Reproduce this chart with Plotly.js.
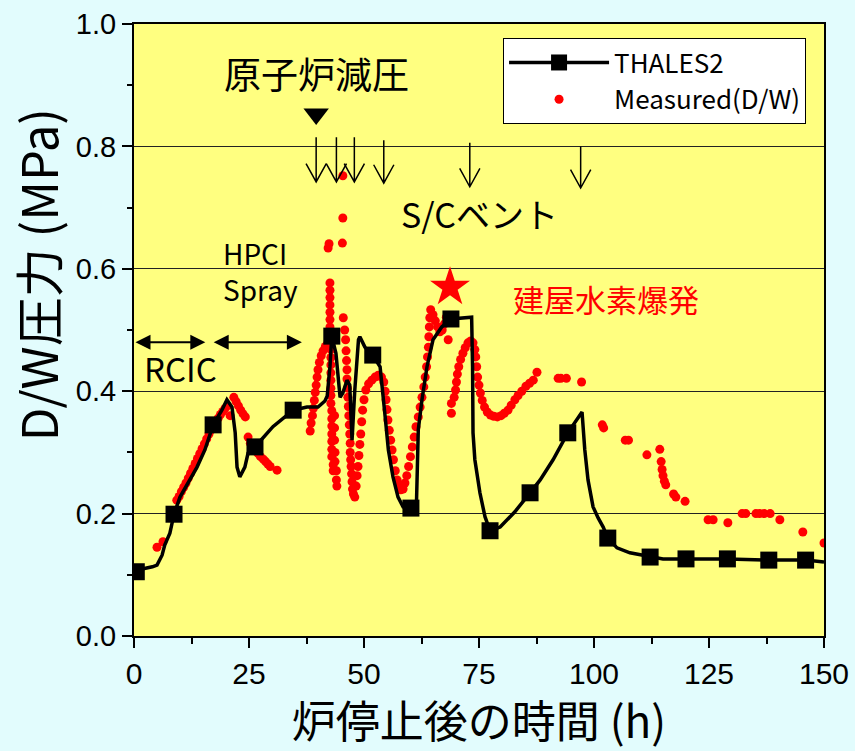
<!DOCTYPE html>
<html>
<head>
<meta charset="utf-8">
<script src="https://cdn.plot.ly/plotly-3.0.1.min.js"></script>
<style>
html,body{margin:0;padding:0;background:#e2fcfd;}
#chart{width:855px;height:751px;}
</style>
</head>
<body>
<div id="chart"></div>
<script>
// THALES2 calculated D/W pressure (line)
const thalesT = [0, 2, 4, 5, 6.1, 6.7, 7.8, 8.7, 10.0, 11.7, 13.7, 15.4, 17.2, 19.1, 20.2, 21.3, 22.0, 22.4, 23.0, 24.1, 24.8, 26.3, 30.2, 34.6, 37.6, 40.0, 41.5, 42.0, 42.6, 43.0, 43.9, 44.8, 45.4, 46.3, 46.9, 47.4, 48.0, 48.8, 49.1, 50.2, 51.9, 53.5, 53.9, 54.6, 55.3, 56.3, 57.4, 58.5, 60.2, 61.4, 61.6, 61.8, 62.6, 63.7, 65.0, 66.9, 68.9, 71.5, 73.4, 73.6, 73.7, 74.1, 75.2, 76.3, 77.4, 79.6, 82.8, 86.1, 88.3, 91.1, 94.3, 97.4, 98.0, 98.7, 99.8, 100.9, 102.0, 103.0, 105.0, 107.8, 112.2, 115.0, 120, 129, 138, 146, 150];
const thalesV = [0.105, 0.110, 0.113, 0.116, 0.132, 0.149, 0.168, 0.199, 0.227, 0.250, 0.276, 0.304, 0.345, 0.369, 0.386, 0.374, 0.332, 0.276, 0.260, 0.276, 0.299, 0.309, 0.342, 0.369, 0.374, 0.374, 0.384, 0.392, 0.440, 0.490, 0.462, 0.390, 0.397, 0.418, 0.410, 0.320, 0.402, 0.484, 0.489, 0.472, 0.459, 0.440, 0.413, 0.358, 0.304, 0.260, 0.227, 0.211, 0.209, 0.215, 0.276, 0.337, 0.386, 0.440, 0.484, 0.505, 0.518, 0.520, 0.521, 0.440, 0.332, 0.288, 0.234, 0.195, 0.172, 0.178, 0.203, 0.234, 0.255, 0.288, 0.332, 0.366, 0.304, 0.255, 0.211, 0.193, 0.178, 0.160, 0.144, 0.136, 0.129, 0.126, 0.126, 0.126, 0.124, 0.124, 0.121];
// THALES2 square markers
const markT = [0.5, 8.7, 17.2, 26.3, 34.6, 43.0, 51.9, 60.2, 68.9, 77.4, 86.1, 94.3, 103.0, 112.2, 120, 129, 138, 146];
const markV = [0.105, 0.199, 0.345, 0.309, 0.369, 0.490, 0.459, 0.209, 0.518, 0.172, 0.234, 0.332, 0.160, 0.129, 0.126, 0.126, 0.124, 0.124];

// Measured D/W pressure (red dots)
const measT = [5.0, 6.3,
 9.3, 9.8, 10.3, 10.8, 11.3, 11.8, 12.3, 12.8, 13.3, 13.8, 14.3, 14.8, 15.3, 15.8, 16.3, 16.8, 17.3, 17.8, 18.3, 18.8, 19.3, 19.8, 20.3,
 20.9, 21.7, 22.2, 22.7, 23.2, 23.7, 24.2, 24.8, 25.3, 25.8, 26.4, 27.0, 27.5, 28.1, 28.6, 29.1, 29.6, 31.1,
 38.3, 38.5, 38.8, 39.0, 39.2, 39.4, 39.6, 39.8, 40.0, 40.3, 40.7, 41.1, 41.6, 42.1, 42.6,
 42.4, 42.2,
 42.6, 42.6, 42.6, 42.6, 42.6, 42.6, 42.6, 42.8, 42.8, 42.8, 42.8, 42.8, 42.8, 42.8, 42.8, 42.8, 42.8,
 43.0, 43.0, 43.0, 43.0, 43.0, 43.0, 43.0, 43.3, 43.3,
 43.6, 43.6, 43.6, 43.7, 43.7, 44.0, 44.0, 44.1,
 45.4, 45.4, 45.3,
 45.5, 45.8, 46.0, 46.1, 46.2, 46.3, 46.3, 46.4, 46.5, 46.6, 46.7, 46.8, 46.9, 47.0, 47.0, 47.1, 47.2, 47.3, 47.4, 47.5, 47.7,
 48.0, 48.3, 48.5, 48.7, 48.9, 49.1, 49.3, 49.5, 49.7, 50.0, 50.4, 51.0, 51.7, 52.4, 53.1, 53.8, 54.3, 54.6, 54.8, 55.0, 55.2, 55.5, 55.8, 56.1, 56.4, 56.8, 57.2, 57.6, 58.0, 58.5, 58.9, 59.3, 59.7, 60.1, 60.5, 60.9, 61.3, 61.8, 62.2, 62.6, 63.0, 63.3, 63.6, 63.8, 64.0, 64.1, 64.2, 64.3, 64.5, 65.0, 65.5, 66.0, 66.5, 67.0, 67.5, 67.9, 68.3,
 69.0, 69.0,
 69.6, 69.9, 70.1, 70.3, 70.6, 71.0, 71.5, 72.0, 72.6, 73.2, 73.7, 74.1, 74.3, 74.5, 74.7, 75.0, 75.3, 75.7, 76.2, 76.8, 77.5, 78.2, 79.0, 79.8, 80.5, 81.3, 82.0, 82.8, 83.5, 84.3, 85.2, 86.0, 86.8, 87.6,
 92.2, 92.8, 94.0, 97.3,
 101.8, 102.1, 106.8, 107.5, 111.5, 114.3, 114.6, 114.8, 115.0, 115.3, 115.6, 117.3, 117.8, 119.8, 124.8, 125.9, 129.1, 132.2, 133.0, 135.2, 136.0, 137.0, 138.3, 140.4, 145.4, 150.0];
const measV = [0.145, 0.154,
 0.222, 0.228, 0.236, 0.243, 0.250, 0.258, 0.266, 0.274, 0.282, 0.290, 0.298, 0.306, 0.314, 0.322, 0.330, 0.337, 0.344, 0.350, 0.356, 0.362, 0.367, 0.372, 0.376,
 0.360, 0.390, 0.383, 0.376, 0.369, 0.363, 0.358, 0.325, 0.315, 0.307, 0.302, 0.298, 0.293, 0.289, 0.285, 0.281, 0.277, 0.271,
 0.335, 0.348, 0.360, 0.372, 0.385, 0.398, 0.410, 0.423, 0.435, 0.447, 0.458, 0.466, 0.473, 0.478, 0.482,
 0.641, 0.634,
 0.577, 0.565, 0.553, 0.541, 0.529, 0.517, 0.505, 0.493, 0.480, 0.468, 0.455, 0.443, 0.430, 0.418, 0.405, 0.393, 0.380,
 0.368, 0.355, 0.343, 0.330, 0.318, 0.305, 0.293, 0.280, 0.270,
 0.360, 0.340, 0.320, 0.300, 0.285, 0.270, 0.255, 0.245,
 0.752, 0.683, 0.642,
 0.520, 0.500, 0.484, 0.466, 0.450, 0.435, 0.420, 0.405, 0.390, 0.375, 0.360, 0.345, 0.330, 0.315, 0.300, 0.288, 0.277, 0.265, 0.252, 0.240, 0.232,
 0.227, 0.245, 0.262, 0.277, 0.295, 0.313, 0.330, 0.350, 0.369, 0.386, 0.402, 0.412, 0.418, 0.423, 0.426, 0.423, 0.415, 0.400, 0.386, 0.370, 0.353, 0.336, 0.320, 0.304, 0.288, 0.270, 0.255, 0.245, 0.239, 0.240, 0.250, 0.262, 0.277, 0.293, 0.309, 0.325, 0.342, 0.358, 0.374, 0.390, 0.407, 0.423, 0.440, 0.456, 0.472, 0.489, 0.505, 0.520, 0.533, 0.525, 0.515, 0.505, 0.497, 0.500, 0.510, 0.521, 0.484,
 0.380, 0.364,
 0.390, 0.402, 0.415, 0.428, 0.440, 0.452, 0.462, 0.471, 0.479, 0.482, 0.479, 0.468, 0.456, 0.440, 0.423, 0.410, 0.397, 0.385, 0.374, 0.366, 0.361, 0.359, 0.358, 0.360, 0.364, 0.369, 0.377, 0.386, 0.393, 0.400, 0.408, 0.413, 0.418, 0.431,
 0.421, 0.421, 0.421, 0.415,
 0.345, 0.340, 0.320, 0.320, 0.296, 0.305, 0.285, 0.272, 0.262, 0.253, 0.247, 0.232, 0.227, 0.220, 0.190, 0.190, 0.185, 0.200, 0.200, 0.200, 0.200, 0.200, 0.200, 0.190, 0.170, 0.152];

// Event annotations
const ventTimes = [39.6, 44.0, 47.9, 54.3, 73.0, 97.1];
const ventTop   = [0.815, 0.815, 0.815, 0.81, 0.806, 0.80];
const ventTip   = [0.742, 0.742, 0.742, 0.740, 0.734, 0.732];
const depressT = 39.6, depressV = 0.853;
const explosionT = 68.7, explosionV = 0.57;
const rcicRange = [0, 15.5];
const hpciRange = [17.0, 36.5];
const injArrowV = 0.48;

const CJK = '"Noto Sans CJK JP", "Noto Sans", sans-serif';
const NUM = '"Liberation Sans", Arial, sans-serif';

const traces = [
  { x: [null], y: [null], mode: 'lines+markers', name: 'THALES2',
    line: { color: '#000', width: 3.5 }, marker: { symbol: 'square', size: 16, color: '#000' } },
  { x: measT, y: measV, mode: 'markers', name: 'Measured(D/W)',
    marker: { color: '#ff0000', size: 9 } },
  { x: thalesT, y: thalesV, mode: 'lines', showlegend: false,
    line: { color: '#000', width: 3.5 } },
  { x: markT, y: markV, mode: 'markers', showlegend: false,
    marker: { symbol: 'square', size: 17, color: '#000' } },
  { x: [depressT], y: [depressV], mode: 'markers', showlegend: false, cliponaxis: false,
    marker: { symbol: 'triangle-down', size: 22, color: '#000' } },
  { x: [explosionT], y: [explosionV], mode: 'markers', showlegend: false,
    marker: { symbol: 'star', size: 30, color: '#ff0000', line: { width: 0 } } }
];

// vent arrows as shapes (data coords)
const dxHead = 2.2, dyHead = 0.03;
const shapes = ventTimes.map((t, i) => ({
  type: 'path', xref: 'x', yref: 'y',
  path: `M${t},${ventTop[i]} L${t},${ventTip[i]} M${t - dxHead},${ventTip[i] + dyHead} L${t},${ventTip[i]} L${t + dxHead},${ventTip[i] + dyHead}`,
  line: { color: '#000', width: 1.5 }
}));

const annotations = [
  { x: depressT, y: 0.92, xref: 'x', yref: 'y', text: '原子炉減圧', showarrow: false,
    font: { family: CJK, size: 37, color: '#000' } },
  { x: 75.0, y: 0.691, xref: 'x', yref: 'y', text: 'S/Cベント', showarrow: false,
    font: { family: CJK, size: 34, color: '#000' } },
  { x: 19.0, y: 0.597, xref: 'x', yref: 'y', text: 'HPCI<br>Spray', showarrow: false, align: 'left',
    xanchor: 'left', font: { family: CJK, size: 28, color: '#000' } },
  { x: 10.0, y: 0.438, xref: 'x', yref: 'y', text: 'RCIC', showarrow: false,
    font: { family: CJK, size: 33, color: '#000' } },
  { x: 102.5, y: 0.552, xref: 'x', yref: 'y', text: '建屋水素爆発', showarrow: false,
    font: { family: CJK, size: 31, color: '#ff0000' } },
  { x: rcicRange[1], y: injArrowV, ax: rcicRange[0], ay: injArrowV, axref: 'x', ayref: 'y', xref: 'x', yref: 'y',
    text: '', showarrow: true, arrowhead: 2, startarrowhead: 2, arrowside: 'end+start', arrowwidth: 2, arrowsize: 1.5, startarrowsize: 1.5, arrowcolor: '#000' },
  { x: hpciRange[1], y: injArrowV, ax: hpciRange[0], ay: injArrowV, axref: 'x', ayref: 'y', xref: 'x', yref: 'y',
    text: '', showarrow: true, arrowhead: 2, startarrowhead: 2, arrowside: 'end+start', arrowwidth: 2, arrowsize: 1.5, startarrowsize: 1.5, arrowcolor: '#000' },
  // y-axis title
  { x: -0.14, y: 0.59, xref: 'paper', yref: 'paper', xanchor: 'center', yanchor: 'middle',
    text: 'D/W圧力 (MPa)', showarrow: false,
    textangle: -90, font: { family: CJK, size: 49, color: '#000' } }
];

const layout = {
  width: 855, height: 751,
  margin: { l: 134, r: 31, t: 24, b: 115 },
  paper_bgcolor: '#e2fcfd',
  plot_bgcolor: '#ffff80',
  font: { family: CJK, color: '#000' },
  showlegend: true,
  legend: {
    x: 0.974, xanchor: 'right', y: 0.977, yanchor: 'top',
    bgcolor: '#ffffff', bordercolor: '#000', borderwidth: 1,
    font: { family: CJK, size: 26, color: '#000' },
    itemwidth: 100, tracegroupgap: 0
  },
  xaxis: {
    range: [0, 150], dtick: 25, tick0: 0,
    ticks: 'outside', ticklen: 10, tickwidth: 2, tickcolor: '#000',
    minor: { dtick: 12.5, ticks: 'outside', ticklen: 6, tickwidth: 2, tickcolor: '#000' },
    showline: true, linecolor: '#000', linewidth: 2, mirror: true,
    showgrid: false, zeroline: false,
    tickfont: { family: NUM, size: 30, color: '#000' },
    title: { text: '炉停止後の時間 (h)', font: { family: CJK, size: 44, color: '#000' }, standoff: 16 }
  },
  yaxis: {
    range: [0, 1.0], dtick: 0.2, tick0: 0, tickformat: '.1f',
    ticks: 'outside', ticklen: 10, tickwidth: 2, tickcolor: '#000',
    minor: { dtick: 0.1, ticks: 'outside', ticklen: 5, tickwidth: 2, tickcolor: '#000' },
    showline: true, linecolor: '#000', linewidth: 2, mirror: true,
    showgrid: true, gridcolor: '#222', gridwidth: 1, zeroline: false,
    tickfont: { family: NUM, size: 29, color: '#000' }
  },
  shapes: shapes,
  annotations: annotations
};

Plotly.newPlot('chart', traces, layout, { displayModeBar: false, staticPlot: true });
</script>
</body>
</html>
